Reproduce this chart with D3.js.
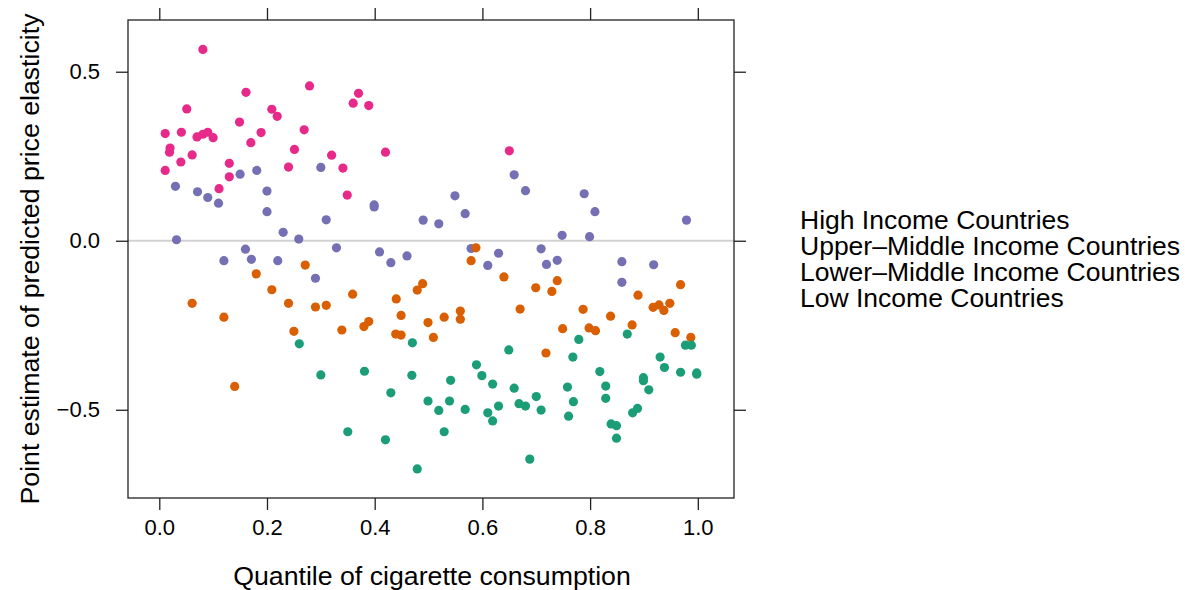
<!DOCTYPE html>
<html>
<head>
<meta charset="utf-8">
<script src="https://cdn.jsdelivr.net/npm/d3@7"></script>
<style>
  body { margin: 0; background: #fff; }
  svg { display: block; font-family: "Liberation Sans", Arial, Helvetica, sans-serif; }
</style>
</head>
<body>
<div id="chart"></div>
<script>
// income groups, in drawing order
const groups = ["High Income Countries", "Upper\u2013Middle Income Countries", "Lower\u2013Middle Income Countries", "Low Income Countries"];
const groupColors = ["#E7298A", "#7570B3", "#D95F02", "#1B9E77"];

// [quantile, elasticity] pairs
const highIncome = [
  [0.081, 0.566], [0.161, 0.439], [0.279, 0.458], [0.051, 0.390], [0.209, 0.389], [0.219, 0.368],
  [0.149, 0.351], [0.269, 0.328], [0.011, 0.317], [0.041, 0.321], [0.070, 0.307], [0.081, 0.315],
  [0.090, 0.321], [0.100, 0.305], [0.189, 0.320], [0.170, 0.290], [0.020, 0.274], [0.019, 0.262],
  [0.251, 0.270], [0.061, 0.254], [0.320, 0.253], [0.040, 0.233], [0.130, 0.229], [0.240, 0.218],
  [0.011, 0.208], [0.130, 0.189], [0.111, 0.154], [0.370, 0.436], [0.360, 0.407], [0.389, 0.400],
  [0.420, 0.262], [0.650, 0.266], [0.341, 0.215], [0.349, 0.135]
];
const upperMiddle = [
  [0.030, 0.161], [0.071, 0.145], [0.090, 0.128], [0.110, 0.111], [0.150, 0.197], [0.181, 0.208],
  [0.200, 0.147], [0.200, 0.086], [0.300, 0.217], [0.310, 0.062], [0.230, 0.025], [0.259, 0.005],
  [0.032, 0.003], [0.160, -0.025], [0.120, -0.059], [0.171, -0.055], [0.220, -0.059], [0.290, -0.111],
  [0.399, 0.106], [0.399, 0.100], [0.549, 0.133], [0.568, 0.080], [0.490, 0.061], [0.519, 0.050],
  [0.659, 0.195], [0.680, 0.148], [0.329, -0.021], [0.409, -0.033], [0.460, -0.045], [0.430, -0.065],
  [0.579, -0.023], [0.630, -0.037], [0.610, -0.073], [0.709, -0.024], [0.789, 0.139], [0.809, 0.086],
  [0.979, 0.061], [0.748, 0.016], [0.799, 0.012], [0.739, -0.058], [0.719, -0.070], [0.859, -0.062],
  [0.918, -0.071], [0.859, -0.123]
];
const lowerMiddle = [
  [0.271, -0.072], [0.180, -0.098], [0.209, -0.145], [0.061, -0.185], [0.240, -0.185], [0.290, -0.196],
  [0.310, -0.191], [0.120, -0.226], [0.250, -0.268], [0.140, -0.431], [0.339, -0.264], [0.579, -0.059],
  [0.588, -0.021], [0.640, -0.107], [0.699, -0.139], [0.359, -0.158], [0.489, -0.127], [0.479, -0.146],
  [0.440, -0.172], [0.449, -0.221], [0.499, -0.242], [0.529, -0.226], [0.559, -0.208], [0.559, -0.232],
  [0.670, -0.202], [0.389, -0.239], [0.380, -0.254], [0.439, -0.276], [0.449, -0.279], [0.509, -0.286],
  [0.739, -0.118], [0.729, -0.150], [0.787, -0.203], [0.838, -0.223], [0.749, -0.260], [0.798, -0.258],
  [0.810, -0.266], [0.878, -0.249], [0.889, -0.161], [0.968, -0.130], [0.917, -0.197], [0.928, -0.190],
  [0.937, -0.206], [0.948, -0.185], [0.958, -0.272], [0.987, -0.286], [0.718, -0.332]
];
const lowIncome = [
  [0.260, -0.305], [0.300, -0.397], [0.470, -0.302], [0.649, -0.323], [0.589, -0.367], [0.599, -0.399],
  [0.381, -0.386], [0.469, -0.398], [0.541, -0.413], [0.619, -0.424], [0.659, -0.436], [0.700, -0.461],
  [0.430, -0.450], [0.499, -0.474], [0.539, -0.474], [0.519, -0.502], [0.568, -0.499], [0.610, -0.509],
  [0.630, -0.489], [0.668, -0.482], [0.680, -0.489], [0.709, -0.501], [0.619, -0.533], [0.350, -0.565],
  [0.529, -0.565], [0.420, -0.589], [0.688, -0.646], [0.479, -0.675], [0.779, -0.292], [0.869, -0.276],
  [0.768, -0.344], [0.818, -0.387], [0.829, -0.430], [0.829, -0.466], [0.758, -0.433], [0.769, -0.476],
  [0.760, -0.519], [0.930, -0.344], [0.938, -0.375], [0.968, -0.389], [0.977, -0.309], [0.988, -0.309],
  [0.998, -0.391], [0.998, -0.395], [0.899, -0.405], [0.899, -0.414], [0.909, -0.441], [0.888, -0.496],
  [0.879, -0.509], [0.839, -0.542], [0.849, -0.547], [0.849, -0.584]
];
const seriesValues = [highIncome, upperMiddle, lowerMiddle, lowIncome];

const xTicks = [0, 0.2, 0.4, 0.6, 0.8, 1.0];
const yTicks = [-0.5, 0, 0.5];
const xTitle = "Quantile of cigarette consumption";
const yTitle = "Point estimate of predicted price elasticity";

const width = 1185, height = 590;
const panel = { left: 128, right: 734, top: 20, bottom: 498 };

const svg = d3.select("#chart").append("svg")
    .attr("width", width)
    .attr("height", height);

svg.append("rect").attr("width", width).attr("height", height).attr("fill", "#fff");

const x = d3.scaleLinear().domain([-0.0581, 1.0672]).range([panel.left, panel.right]);
const y = d3.scaleLinear().domain([-0.761, 0.653]).range([panel.bottom, panel.top]);

// reference line at zero
svg.append("line")
    .attr("x1", panel.left).attr("x2", panel.right)
    .attr("y1", y(0)).attr("y2", y(0))
    .attr("stroke", "#d2d2d2")
    .attr("stroke-width", 2);

// points
seriesValues.forEach((pts, i) => {
    svg.append("g")
        .selectAll("circle")
        .data(pts)
        .enter()
        .append("circle")
        .attr("cx", d => x(d[0]))
        .attr("cy", d => y(d[1]))
        .attr("r", 4.6)
        .attr("fill", groupColors[i]);
});

// axes, ticks on all four sides, labels only bottom and left
const fmt = d3.format(".1f");
const styleAxis = g => {
    g.select(".domain").remove();
    g.selectAll(".tick line").attr("stroke", "#222").attr("stroke-width", 1.3);
    g.selectAll("text").attr("fill", "#000").style("font-size", "22px");
};

svg.append("g")
    .attr("transform", `translate(0,${panel.bottom})`)
    .call(d3.axisBottom(x).tickValues(xTicks).tickSize(12).tickPadding(9)
        .tickFormat(d => fmt(d).replace("-", "\u2212")))
    .call(styleAxis)
    .attr("font-family", null);

svg.append("g")
    .attr("transform", `translate(0,${panel.top})`)
    .call(d3.axisTop(x).tickValues(xTicks).tickSize(12).tickFormat(""))
    .call(styleAxis);

svg.append("g")
    .attr("transform", `translate(${panel.left},0)`)
    .call(d3.axisLeft(y).tickValues(yTicks).tickSize(12).tickPadding(16)
        .tickFormat(d => fmt(d).replace("-", "\u2212")))
    .call(styleAxis)
    .attr("font-family", null);

svg.append("g")
    .attr("transform", `translate(${panel.right},0)`)
    .call(d3.axisRight(y).tickValues(yTicks).tickSize(12).tickFormat(""))
    .call(styleAxis);

// panel border
svg.append("rect")
    .attr("x", panel.left).attr("y", panel.top)
    .attr("width", panel.right - panel.left)
    .attr("height", panel.bottom - panel.top)
    .attr("fill", "none")
    .attr("stroke", "#222")
    .attr("stroke-width", 1.3);

// axis titles
svg.append("text")
    .attr("x", 432)
    .attr("y", 585)
    .attr("text-anchor", "middle")
    .style("font-size", "26.7px")
    .text(xTitle);

svg.append("text")
    .attr("transform", `translate(30,${(panel.top + panel.bottom) / 2}) rotate(-90)`)
    .attr("text-anchor", "middle")
    .attr("dy", "0.35em")
    .style("font-size", "26.7px")
    .text(yTitle);

// legend (text only)
svg.append("g")
    .selectAll("text")
    .data(groups)
    .enter()
    .append("text")
    .attr("x", 800)
    .attr("y", (d, i) => 229 + i * 26)
    .style("font-size", "26.5px")
    .attr("fill", "#000")
    .text(d => d);
</script>
</body>
</html>
